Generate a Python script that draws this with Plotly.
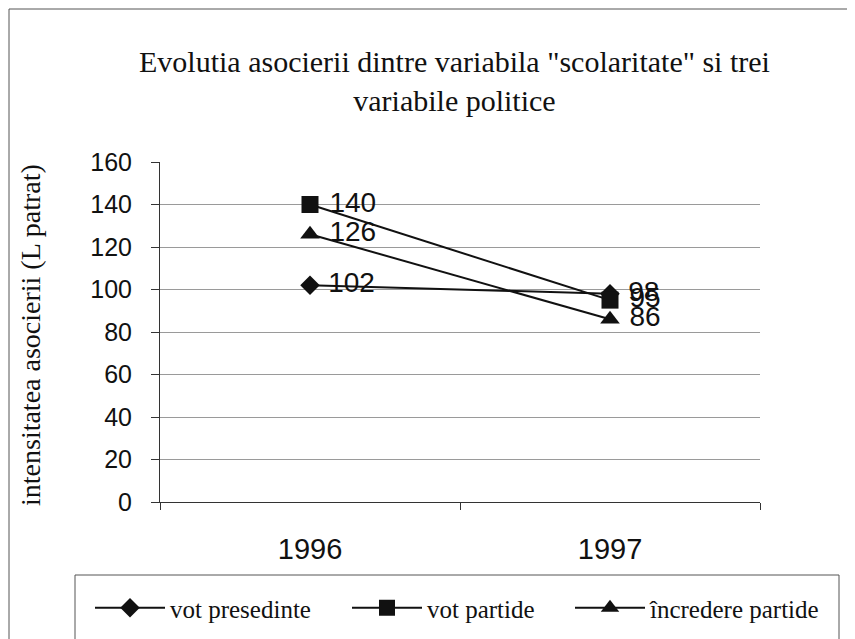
import plotly.graph_objects as go

categories = ["1996", "1997"]
vot_presedinte = [102, 98]
vot_partide = [140, 95]
incredere_partide = [126, 86]
series_names = ["vot presedinte", "vot partide", "încredere partide"]
y_ticks = [0, 20, 40, 60, 80, 100, 120, 140, 160]

W, H = 855, 639
OFF = 8  # page body margin offset


def px(x):
    return (x - OFF) / W


def py(y):
    return 1 - (y - OFF) / H


fig = go.Figure()

symbols = ["diamond", "square", "triangle-up"]
sizes = [15, 17, 17]
legend_ids = ["legend", "legend2", "legend3"]
legend_x = [90, 347, 570]
for name, vals, sym, sz, lg in zip(series_names, [vot_presedinte, vot_partide, incredere_partide],
                                   symbols, sizes, legend_ids):
    fig.add_trace(go.Scatter(
        x=categories, y=vals, name=name, mode="lines+markers+text",
        texttemplate="\u00a0%{y}", textposition="middle right",
        textfont=dict(family="Liberation Sans, Arial", size=28, color="#111"),
        line=dict(color="#111", width=2),
        marker=dict(symbol=sym, size=sz, color="#111"),
        legend=lg,
    ))

legend_style = dict(orientation="h", xanchor="left", yanchor="middle", y=py(608),
                    font=dict(family="Liberation Serif, Times New Roman", size=25, color="#111"),
                    bgcolor="rgba(0,0,0,0)", itemwidth=70)

fig.update_layout(
    width=W, height=H,
    margin=dict(l=0, r=0, t=0, b=0, autoexpand=False),
    paper_bgcolor="white", plot_bgcolor="white",
    showlegend=True,
    legend=dict(x=px(legend_x[0]), **legend_style),
    legend2=dict(x=px(legend_x[1]), **legend_style),
    legend3=dict(x=px(legend_x[2]), **legend_style),
    xaxis=dict(domain=[px(160), px(760)], type="category", range=[-0.5, 1.5], showgrid=False,
               showline=True, linecolor="#333", linewidth=1,
               ticks="outside", tickson="boundaries", ticklen=7, tickcolor="#333",
               ticklabelstandoff=21,
               tickfont=dict(family="Liberation Sans, Arial", size=29, color="#111")),
    yaxis=dict(domain=[py(502), py(162)], range=[0, 160], tickvals=y_ticks,
               showgrid=True, gridcolor="#9a9a9a", gridwidth=1,
               showline=True, linecolor="#333", linewidth=1,
               ticks="outside", ticklen=8, tickcolor="#333", ticklabelstandoff=14,
               tickfont=dict(family="Liberation Sans, Arial", size=25, color="#111"),
               zeroline=False),
    annotations=[
        dict(text="Evolutia asocierii dintre variabila \"scolaritate\" si trei<br>variabile politice",
             x=px(455), y=py(81), xref="paper", yref="paper", showarrow=False,
             xanchor="center", yanchor="middle",
             font=dict(family="Liberation Serif, Times New Roman", size=30, color="#111")),
        dict(text="intensitatea asocierii (L patrat)", textangle=-90,
             x=px(31), y=py(335), xref="paper", yref="paper", showarrow=False,
             xanchor="center", yanchor="middle",
             font=dict(family="Liberation Serif, Times New Roman", size=28, color="#111")),
    ],
    shapes=[
        dict(type="rect", xref="paper", yref="paper", x0=px(9), x1=px(848), y0=-0.05, y1=py(9),
             line=dict(color="#555", width=1)),
        dict(type="rect", xref="paper", yref="paper", x0=px(75), x1=px(839), y0=-0.05, y1=py(575),
             line=dict(color="#555", width=1)),
    ],
)

fig.write_html("out.html")
